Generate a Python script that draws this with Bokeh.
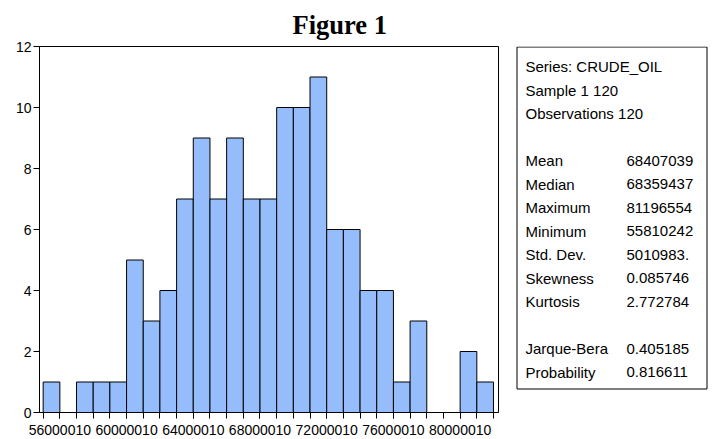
from bokeh.plotting import figure
from bokeh.layouts import row
from bokeh.models import ColumnDataSource, FixedTicker, Title
from bokeh.core.properties import value
from bokeh.embed import file_html
from bokeh.resources import INLINE

# ---- data ----
bin_start = 55000010
bin_width = 1000000
counts = [1, 0, 1, 1, 1, 5, 3, 4, 7, 9, 7, 9, 7, 7, 10, 10, 11, 6, 6, 4, 4, 1, 3, 0, 0, 2, 1]
x_tick_values = [56000010, 60000010, 64000010, 68000010, 72000010, 76000010, 80000010]
x_tick_labels = ["56000010", "60000010", "64000010", "68000010", "72000010", "76000010", "80000010"]
y_tick_values = [0, 2, 4, 6, 8, 10, 12]

header_lines = ["Series: CRUDE_OIL", "Sample 1 120", "Observations 120"]
stat_names = ["Mean", "Median", "Maximum", "Minimum", "Std. Dev.", "Skewness", "Kurtosis"]
stat_values = ["68407039", "68359437", "81196554", "55810242", "5010983.", "0.085746", "2.772784"]
test_names = ["Jarque-Bera", "Probability"]
test_values = ["0.405185", "0.816611"]

# ---- layout constants (pixels) ----
W_HIST, W_STATS, H = 513, 200, 439
TOP, BOTTOM = 46, 27

# ---- histogram ----
lefts = [bin_start + i * bin_width for i in range(len(counts))]
rights = [l + bin_width for l in lefts]
edges = lefts + [rights[-1]]
src = ColumnDataSource(dict(left=lefts, right=rights, top=counts, bottom=[0] * len(counts)))

p = figure(width=W_HIST, height=H, output_backend="svg", toolbar_location=None,
           x_range=(54780010, 82300010), y_range=(0, 12),
           min_border_left=39, min_border_right=15, min_border_top=TOP, min_border_bottom=BOTTOM)
p.quad(left="left", right="right", top="top", bottom="bottom", source=src,
       fill_color="#95bdfb", line_color="black", line_width=1)
p.xgrid.visible = False
p.ygrid.visible = False
p.outline_line_color = "black"
p.outline_line_alpha = 1
p.outline_line_width = 1
p.background_fill_color = "white"
p.border_fill_color = "white"

p.xaxis.ticker = FixedTicker(ticks=x_tick_values, minor_ticks=edges)
p.xaxis.major_label_overrides = {v: s for v, s in zip(x_tick_values, x_tick_labels)}
p.yaxis.ticker = FixedTicker(ticks=y_tick_values, minor_ticks=[])
for ax in (p.xaxis[0], p.yaxis[0]):
    ax.axis_line_color = "black"
    ax.major_tick_line_color = "black"
    ax.minor_tick_line_color = "black"
    ax.major_tick_in = 0
    ax.minor_tick_in = 0
    ax.major_label_text_font = "Liberation Sans"
    ax.major_label_text_color = "black"
p.xaxis.major_tick_out = 6
p.xaxis.minor_tick_out = 6
p.xaxis.major_label_standoff = 6
p.xaxis.major_label_text_font_size = "14px"
p.yaxis.major_tick_out = 6
p.yaxis.minor_tick_out = 0
p.yaxis.major_label_standoff = 2
p.yaxis.major_label_text_font_size = "14px"

title = Title(text="Figure 1", align="left", offset=253, standoff=14,
              text_font="Liberation Serif", text_font_size="26.5px",
              text_font_style="bold", text_color="black")
p.add_layout(title, "above")

# ---- stats box (data coordinates = pixel positions of the page) ----
x0 = W_HIST
s = figure(width=W_STATS, height=H, output_backend="svg", toolbar_location=None,
           x_range=(x0, x0 + W_STATS), y_range=(H - BOTTOM, TOP),
           x_axis_location=None, y_axis_location=None,
           min_border_left=0, min_border_right=0, min_border_top=TOP, min_border_bottom=BOTTOM)
s.xgrid.visible = False
s.ygrid.visible = False
s.outline_line_color = None
s.background_fill_color = "white"
s.border_fill_color = "white"

s.quad(left=[x0 + 3.5], right=[x0 + 193.5], top=[TOP + 0.5], bottom=[388.5],
       fill_color=None, line_color="black", line_width=1)

line_h = 23.5
first_y = 66
left_texts = header_lines + [""] + stat_names + [""] + test_names
right_texts = [""] * 3 + [""] + stat_values + [""] + test_values
ys = [first_y + i * line_h for i in range(len(left_texts))]
tsrc_l = ColumnDataSource(dict(x=[x0 + 12] * len(left_texts), y=ys, t=left_texts))
tsrc_r = ColumnDataSource(dict(x=[x0 + 113] * len(right_texts), y=ys, t=right_texts))
for ts in (tsrc_l, tsrc_r):
    s.text(x="x", y="y", text="t", source=ts, text_font=value("Liberation Sans"),
           text_font_size="15px", text_baseline="middle", text_align="left", text_color="black")

layout = row(p, s, spacing=0)
open("out.html", "w").write(file_html(layout, INLINE))
